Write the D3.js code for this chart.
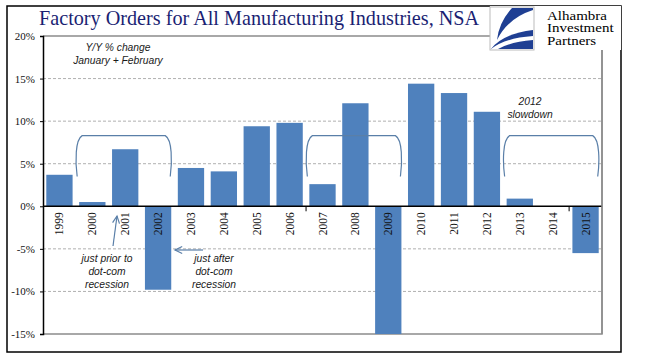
<!DOCTYPE html>
<html><head><meta charset="utf-8">
<script src="https://cdn.jsdelivr.net/npm/d3@7"></script>
<style>
html,body{margin:0;padding:0;background:#fff;}
svg{display:block;}
</style></head>
<body>
<svg id="c" width="649" height="358"></svg>
<script>
const years = ["1999","2000","2001","2002","2003","2004","2005","2006","2007","2008","2009","2010","2011","2012","2013","2014","2015"];
const values = [3.7, 0.5, 6.7, -9.8, 4.5, 4.1, 9.4, 9.8, 2.6, 12.1, -15.0, 14.4, 13.3, 11.1, 0.9, 0.0, -5.5];
const yTicks = [20, 15, 10, 5, 0, -5, -10, -15];
const titleText = "Factory Orders for All Manufacturing Industries, NSA";
const logoLines = ["Alhambra", "Investment", "Partners"];
const noteTopLeft = ["Y/Y % change", "January + February"];
const notePrior = ["just prior to", "dot-com", "recession"];
const noteAfter = ["just after", "dot-com", "recession"];
const noteSlow = ["2012", "slowdown"];
// brackets: [first year, last year] spanned
const brackets = [["2000","2002"], ["2007","2009"], ["2013","2015"]];

const svg = d3.select("#c");
const L = 43, R = 602, T = 36, B = 334;

const x = d3.scaleBand().domain(years).range([L, R]).paddingInner(0.2).paddingOuter(0.1);
const y = d3.scaleLinear().domain([-15, 20]).range([B, T]);

// outer frame
svg.append("rect").attr("x", 7).attr("y", 6).attr("width", 614).attr("height", 346)
  .attr("fill", "#fff").attr("stroke", "#000").attr("stroke-width", 1.5);

// gridlines
svg.append("g").selectAll("line").data(yTicks.filter(d => d !== 0 && d !== 20 && d !== -15)).join("line")
  .attr("x1", L).attr("x2", R).attr("y1", d => y(d)).attr("y2", d => y(d))
  .attr("stroke", "#b0b0b0").attr("stroke-width", 1).attr("stroke-dasharray", "3,2");

// plot border (top/right/bottom)
svg.append("path")
  .attr("d", `M${L},${T}H${R}V${B}H${L}`)
  .attr("fill", "none").attr("stroke", "#8c8c8c").attr("stroke-width", 1.5);

// bars
svg.append("g").selectAll("rect").data(values).join("rect")
  .attr("x", (d, i) => x(years[i]))
  .attr("width", x.bandwidth())
  .attr("y", d => y(Math.max(0, d)))
  .attr("height", d => Math.abs(y(d) - y(0)))
  .attr("fill", "#4f81bd");

// y axis
const yAxis = d3.axisLeft(y).tickValues(yTicks).tickSize(3).tickFormat(d => d + "%");
const ya = svg.append("g").attr("transform", `translate(${L},0)`).call(yAxis);
ya.select(".domain").attr("stroke", "#000").attr("stroke-width", 1.5);
ya.selectAll(".tick line").attr("stroke", "#000");
ya.selectAll(".tick text").attr("x", -8)
  .attr("font-family", "Liberation Serif, serif").attr("font-size", 11).attr("fill", "#111");

// zero line
svg.append("line").attr("x1", L).attr("x2", R).attr("y1", y(0)).attr("y2", y(0))
  .attr("stroke", "#000").attr("stroke-width", 1.5);

// x ticks every 8 categories
const step = x.step();
const bounds = [0, 8, 16].map(i => x(years[i]) - x.paddingInner() * step / 2);
svg.append("g").selectAll("line").data(bounds.slice(1)).join("line")
  .attr("x1", d => d).attr("x2", d => d).attr("y1", y(0)).attr("y2", y(0) + 5)
  .attr("stroke", "#000").attr("stroke-width", 1);

// x labels
svg.append("g").selectAll("text").data(years).join("text")
  .attr("transform", d => `translate(${x(d) + x.bandwidth() / 2},${y(0) + 6}) rotate(-90)`)
  .attr("text-anchor", "end").attr("dy", "0.35em")
  .attr("font-family", "Liberation Serif, serif").attr("font-size", 11.5).attr("fill", "#111")
  .text(d => d);

// brackets
const bc = "#5a7fa8";
brackets.forEach(([a, b]) => {
  const x0 = x(a) - 2, x1 = x(b) + x.bandwidth() - 1;
  const yt = y(8.3), yb = y(3.5);
  const p = `M${x0},${yb} C${x0 - 2},${yb - 15} ${x0 - 2},${yt + 4} ${x0 + 5},${yt} L${x1 - 5},${yt} C${x1 + 2},${yt + 4} ${x1 + 2},${yb - 15} ${x1},${yb}`;
  svg.append("path").attr("d", p).attr("fill", "none").attr("stroke", bc).attr("stroke-width", 1.2);
});

// arrows
function arrow(x1, y1, x2, y2) {
  svg.append("line").attr("x1", x1).attr("y1", y1).attr("x2", x2).attr("y2", y2)
    .attr("stroke", bc).attr("stroke-width", 1.2);
  const ang = Math.atan2(y2 - y1, x2 - x1), h = 8, s = 0.45;
  const pts = [[x2 - h * Math.cos(ang - s), y2 - h * Math.sin(ang - s)], [x2, y2], [x2 - h * Math.cos(ang + s), y2 - h * Math.sin(ang + s)]];
  svg.append("path").attr("d", d3.line()(pts)).attr("fill", "none").attr("stroke", bc).attr("stroke-width", 1.2);
}
arrow(113, 246, 117, 216);
arrow(203, 250, 175, 250);

// annotations
function note(lines, cx, y0, lh) {
  svg.append("text").attr("x", cx).attr("y", y0)
    .attr("text-anchor", "middle").attr("font-family", "Liberation Sans, sans-serif")
    .attr("font-style", "italic").attr("font-size", 10.3).attr("fill", "#1a1a1a")
    .selectAll("tspan").data(lines).join("tspan")
    .attr("x", cx).attr("dy", (d, i) => i === 0 ? 0 : lh).text(d => d);
}
note(noteTopLeft, 118, 51, 13);
note(notePrior, 107, 262, 13);
note(noteAfter, 214, 262, 13);
note(noteSlow, 530, 105, 13);

// title
svg.append("text").attr("x", 39).attr("y", 25)
  .attr("font-family", "Liberation Serif, serif").attr("font-size", 20.2)
  .attr("fill", "#1b1f73").text(titleText);

// logo
const lg = svg.append("g");
lg.append("rect").attr("x", 490).attr("y", 6).attr("width", 131).attr("height", 44).attr("fill", "#fff");
lg.append("rect").attr("x", 490).attr("y", 7).attr("width", 44).attr("height", 43)
  .attr("fill", "#fff").attr("stroke", "#bbb").attr("stroke-width", 1);
lg.append("path").attr("d", "M512,8 L533,8 L533,10 Q508,18 497,40 Q499,22 512,8 Z").attr("fill", "#1f3f93");
lg.append("path").attr("d", "M491,49 Q502,34 533,30 L533,49 Z").attr("fill", "#1f3f93");
lg.append("path").attr("d", "M491,49 Q505,38 533,36 L533,40 Q510,42 498,49 Z").attr("fill", "#fff");
const lt = lg.append("text").attr("font-family", "Liberation Serif, serif").attr("font-size", 15).attr("fill", "#000")
  .attr("transform", "translate(547,0) scale(1,0.85)");
lt.selectAll("tspan").data(logoLines).join("tspan")
  .attr("x", 0).attr("y", (d, i) => (20 + i * 12.5) / 0.85).text(d => d);
// right plot border continues below logo
svg.append("line").attr("x1", R).attr("x2", R).attr("y1", 50).attr("y2", B).attr("stroke", "#8c8c8c").attr("stroke-width", 1.5);
</script>
</body></html>
